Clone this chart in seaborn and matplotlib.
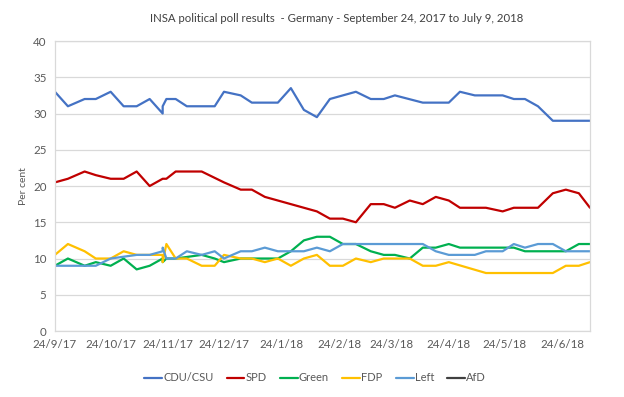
import pandas as pd
import matplotlib
matplotlib.use('Agg')
import matplotlib.pyplot as plt
from matplotlib.lines import Line2D
import seaborn as sns

# Poll results (per cent)
cdu_dates = ['2017-09-24', '2017-10-01', '2017-10-10', '2017-10-16', '2017-10-24', '2017-10-31',
             '2017-11-07', '2017-11-14', '2017-11-21', '2017-11-21', '2017-11-23', '2017-11-28',
             '2017-12-04', '2017-12-19', '2017-12-24', '2018-01-02', '2018-01-08', '2018-01-22',
             '2018-01-29', '2018-02-05', '2018-02-12', '2018-02-19', '2018-02-26', '2018-03-05',
             '2018-03-13', '2018-03-20', '2018-03-26', '2018-04-10', '2018-04-24', '2018-04-30',
             '2018-05-08', '2018-05-23', '2018-05-29', '2018-06-04', '2018-06-11', '2018-06-19',
             '2018-07-09']
cdu_values = [33, 31, 32, 32, 33, 31, 31, 32, 30, 31, 32, 32, 31, 31, 33, 32.5, 31.5, 31.5,
              33.5, 30.5, 29.5, 32, 32.5, 33, 32, 32, 32.5, 31.5, 31.5, 33, 32.5, 32.5, 32, 32,
              31, 29, 29]

spd_dates = ['2017-09-24', '2017-10-01', '2017-10-10', '2017-10-16', '2017-10-24', '2017-10-31',
             '2017-11-07', '2017-11-14', '2017-11-21', '2017-11-23', '2017-11-28', '2017-12-12',
             '2017-12-24', '2018-01-02', '2018-01-08', '2018-01-15', '2018-01-22', '2018-01-29',
             '2018-02-05', '2018-02-12', '2018-02-19', '2018-02-26', '2018-03-05', '2018-03-13',
             '2018-03-20', '2018-03-26', '2018-04-03', '2018-04-10', '2018-04-17', '2018-04-24',
             '2018-04-30', '2018-05-14', '2018-05-23', '2018-05-29', '2018-06-11', '2018-06-19',
             '2018-06-26', '2018-07-03', '2018-07-09']
spd_values = [20.5, 21, 22, 21.5, 21, 21, 22, 20, 21, 21, 22, 22, 20.5, 19.5, 19.5, 18.5, 18,
              17.5, 17, 16.5, 15.5, 15.5, 15, 17.5, 17.5, 17, 18, 17.5, 18.5, 18, 17, 17, 16.5,
              17, 17, 19, 19.5, 19, 17]

green_dates = ['2017-09-24', '2017-10-01', '2017-10-10', '2017-10-16', '2017-10-24', '2017-10-31',
               '2017-11-07', '2017-11-14', '2017-11-21', '2017-11-21', '2017-11-23', '2017-11-28',
               '2017-12-12', '2017-12-19', '2017-12-24', '2018-01-02', '2018-01-22', '2018-01-29',
               '2018-02-05', '2018-02-12', '2018-02-19', '2018-02-26', '2018-03-05', '2018-03-13',
               '2018-03-20', '2018-03-26', '2018-04-03', '2018-04-10', '2018-04-17', '2018-04-24',
               '2018-04-30', '2018-05-29', '2018-06-04', '2018-06-26', '2018-07-03', '2018-07-09']
green_values = [9, 10, 9, 9.5, 9, 10, 8.5, 9, 10, 9.5, 10, 10, 10.5, 10, 9.5, 10, 10, 11,
                12.5, 13, 13, 12, 12, 11, 10.5, 10.5, 10, 11.5, 11.5, 12, 11.5, 11.5, 11, 11,
                12, 12]

fdp_dates = ['2017-09-24', '2017-10-01', '2017-10-10', '2017-10-16', '2017-10-24', '2017-10-31',
             '2017-11-07', '2017-11-21', '2017-11-21', '2017-11-23', '2017-11-28', '2017-12-04',
             '2017-12-12', '2017-12-19', '2017-12-24', '2018-01-02', '2018-01-08', '2018-01-15',
             '2018-01-22', '2018-01-29', '2018-02-05', '2018-02-12', '2018-02-19', '2018-02-26',
             '2018-03-05', '2018-03-13', '2018-03-20', '2018-04-03', '2018-04-10', '2018-04-17',
             '2018-04-24', '2018-05-14', '2018-06-19', '2018-06-26', '2018-07-03', '2018-07-09']
fdp_values = [10.5, 12, 11, 10, 10, 11, 10.5, 10.5, 9.5, 12, 10, 10, 9, 9, 10.5, 10, 10, 9.5,
              10, 9, 10, 10.5, 9, 9, 10, 9.5, 10, 10, 9, 9, 9.5, 8, 8, 9, 9, 9.5]

left_dates = ['2017-09-24', '2017-10-01', '2017-10-16', '2017-10-24', '2017-11-07', '2017-11-14',
              '2017-11-21', '2017-11-21', '2017-11-23', '2017-11-28', '2017-12-04', '2017-12-12',
              '2017-12-19', '2017-12-24', '2018-01-02', '2018-01-08', '2018-01-15', '2018-01-22',
              '2018-02-05', '2018-02-12', '2018-02-19', '2018-02-26', '2018-04-10', '2018-04-17',
              '2018-04-24', '2018-05-08', '2018-05-14', '2018-05-23', '2018-05-29', '2018-06-04',
              '2018-06-11', '2018-06-19', '2018-06-26', '2018-07-09']
left_values = [9, 9, 9, 10, 10.5, 10.5, 11, 11.5, 10, 10, 11, 10.5, 11, 10, 11, 11, 11.5, 11,
               11, 11.5, 11, 12, 12, 11, 10.5, 10.5, 11, 11, 12, 11.5, 12, 12, 11, 11]

# AfD only shows up in the legend
parties = ['CDU/CSU', 'SPD', 'Green', 'FDP', 'Left', 'AfD']
colors = ['#4472C4', '#C00000', '#00B050', '#FFC000', '#5B9BD5', '#404040']

tick_dates = ['2017-09-24', '2017-10-24', '2017-11-24', '2017-12-24', '2018-01-24',
              '2018-02-24', '2018-03-24', '2018-04-24', '2018-05-24', '2018-06-24']
tick_labels = ['24/9/17', '24/10/17', '24/11/17', '24/12/17', '24/1/18',
               '24/2/18', '24/3/18', '24/4/18', '24/5/18', '24/6/18']

# long table for seaborn, keeping the order of the rows
frames = []
for name, d, v in [('CDU/CSU', cdu_dates, cdu_values), ('SPD', spd_dates, spd_values),
                   ('Green', green_dates, green_values), ('FDP', fdp_dates, fdp_values),
                   ('Left', left_dates, left_values)]:
    frames.append(pd.DataFrame({'date': pd.to_datetime(d), 'value': v, 'party': name}))
polls = pd.concat(frames, ignore_index=True)

sns.set_style('white')
plt.rcParams['font.family'] = ['Lato', 'DejaVu Sans']

fig, ax = plt.subplots(figsize=(6.24, 3.97), dpi=100)
fig.subplots_adjust(left=0.088, right=0.9455, top=0.8967, bottom=0.1662)

palette = dict(zip(parties, colors))
sns.lineplot(data=polls, x='date', y='value', hue='party', palette=palette,
             estimator=None, sort=False, linewidth=1.6, legend=False, ax=ax)

ax.set_xlim(pd.Timestamp('2017-09-24'), pd.Timestamp('2018-07-09'))
ax.set_ylim(0, 40)
ax.set_yticks(range(0, 41, 5))
ax.set_xticks(pd.to_datetime(tick_dates))
ax.set_xticklabels(tick_labels)
ax.grid(axis='y', color='#D9D9D9', linewidth=0.9)
ax.set_axisbelow(True)
for side in ['top', 'right', 'left', 'bottom']:
    ax.spines[side].set_color('#D9D9D9')
    ax.spines[side].set_linewidth(0.9)
ax.tick_params(axis='both', length=0, labelsize=8.3, labelcolor='#595959', pad=6)
ax.set_xlabel('')
ax.set_ylabel('Per cent', fontsize=7.5, color='#595959', labelpad=4)

fig.suptitle('INSA political poll results  - Germany - September 24, 2017 to July 9, 2018',
             fontsize=8.2, color='#404040', x=0.54, y=0.968)

handles = [Line2D([], [], color=c, linewidth=1.6) for c in colors]
fig.legend(handles, parties, loc='center', bbox_to_anchor=(0.505, 0.048), ncol=6,
           frameon=False, fontsize=8, labelcolor='#595959', handlelength=1.6,
           handletextpad=0.1, columnspacing=1.2)

plt.savefig('out.png', dpi=100)
